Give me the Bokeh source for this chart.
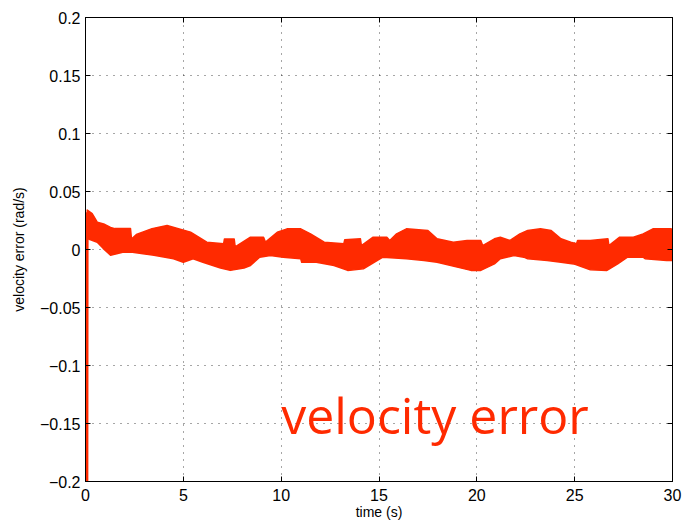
from bokeh.plotting import figure
from bokeh.models import Range1d, FixedTicker, LinearAxis, Label
from bokeh.embed import file_html
from bokeh.resources import INLINE

# Upper envelope of the dense oscillating velocity-error signal
upper_t = [0.09, 0.34, 0.6, 0.93, 1.28, 1.5, 2.3, 2.35, 2.6, 3.4, 4.17, 5.37,
           6.2, 7.06, 7.1, 7.6, 7.65, 8.43, 9.1, 9.2, 9.8, 10.3, 11.0, 11.5,
           12.2, 13.2, 13.25, 14.05, 14.1, 14.7, 15.4, 15.55, 15.9, 16.4, 17.5,
           17.97, 18.8, 19.5, 20.2, 20.3, 20.9, 21.2, 21.7, 22.2, 22.6, 23.25,
           23.8, 24.3, 24.8, 25.1, 25.15, 25.8, 26.7, 26.75, 27.3, 28.0, 28.5,
           29.0, 29.9, 30.0]
upper_v = [0.034, 0.031, 0.0235, 0.022, 0.019, 0.018, 0.018, 0.009, 0.013,
           0.018, 0.0207, 0.015, 0.0063, 0.005, 0.009, 0.009, 0.0023, 0.0106,
           0.0106, 0.0063, 0.0149, 0.0178, 0.0178, 0.0135, 0.0063, 0.0049,
           0.0085, 0.0092, 0.0034, 0.0106, 0.0106, 0.0078, 0.0135, 0.0178,
           0.0164, 0.0092, 0.0063, 0.0078, 0.0078, 0.0034, 0.0092, 0.0106,
           0.0078, 0.0135, 0.0164, 0.0178, 0.0164, 0.0092, 0.0063, 0.0049,
           0.0078, 0.0078, 0.0092, 0.0034, 0.0106, 0.0106, 0.0135, 0.0178,
           0.0178, 0.0175]

# Lower envelope
lower_t = [0.09, 0.6, 0.9, 1.28, 1.9, 2.4, 3.5, 4.5, 5.0, 5.5, 6.0, 6.9, 7.4,
           8.1, 8.43, 8.9, 9.45, 10.1, 11.0, 11.05, 11.8, 12.7, 13.4, 14.2,
           14.9, 15.2, 16.4, 17.3, 17.97, 19.0, 19.7, 20.2, 20.9, 21.2, 21.9,
           22.4, 22.6, 23.6, 24.3, 24.95, 25.8, 26.65, 27.2, 27.7, 28.5, 28.6,
           29.7, 30.0]
lower_v = [0.0095, 0.0063, 0.001, -0.005, -0.0023, -0.0023, -0.005, -0.008,
           -0.011, -0.008, -0.011, -0.016, -0.018, -0.016, -0.0138, -0.0066,
           -0.0052, -0.0066, -0.008, -0.011, -0.011, -0.0138, -0.018, -0.0167,
           -0.0095, -0.0066, -0.008, -0.0095, -0.011, -0.0152, -0.018, -0.018,
           -0.0124, -0.008, -0.0052, -0.0066, -0.008, -0.0095, -0.011, -0.0124,
           -0.0175, -0.018, -0.0124, -0.0066, -0.0066, -0.008, -0.0095, -0.0095]

# Initial transient
trans_t = [0.07, 0.08, 0.09]
trans_v = [-0.2, 0.0, 0.032]

x_ticks = [0, 5, 10, 15, 20, 25, 30]
y_ticks = [-0.2, -0.15, -0.1, -0.05, 0, 0.05, 0.1, 0.15, 0.2]
y_tick_labels = ["\u22120.2", "\u22120.15", "\u22120.1", "\u22120.05", "0",
                 "0.05", "0.1", "0.15", "0.2"]

RED = "#ff2a00"
FONT = "Liberation Sans"

p = figure(frame_width=587, frame_height=464, output_backend="svg",
           toolbar_location=None,
           x_range=Range1d(0, 30), y_range=Range1d(-0.2, 0.2),
           min_border_left=85, min_border_top=17, min_border_right=10,
           min_border_bottom=43)
p.background_fill_color = "white"
p.border_fill_color = "white"
p.outline_line_color = "black"
p.outline_line_width = 1
p.outline_line_alpha = 1

p.xaxis.ticker = FixedTicker(ticks=x_ticks)
p.yaxis.ticker = FixedTicker(ticks=y_ticks)
p.yaxis.major_label_overrides = {t: l for t, l in zip(y_ticks, y_tick_labels)}

for ax in (p.xaxis[0], p.yaxis[0]):
    ax.major_tick_in = 5
    ax.major_tick_out = 0
    ax.minor_tick_in = 0
    ax.minor_tick_out = 0
    ax.axis_line_color = "black"
    ax.major_tick_line_color = "black"
    ax.major_label_text_font = FONT
    ax.major_label_text_font_size = "16px"
    ax.major_label_text_color = "black"
    ax.axis_label_text_font = FONT
    ax.axis_label_text_font_size = "14px"
    ax.axis_label_text_font_style = "normal"
    ax.axis_label_text_color = "black"

p.xaxis.axis_label = "time (s)"
p.yaxis.axis_label = "velocity error (rad/s)"
p.xaxis.major_label_standoff = 7
p.xaxis.axis_label_standoff = 0
p.yaxis.major_label_standoff = 5
p.yaxis.axis_label_standoff = 10

# box ticks on top and right
top_ax = LinearAxis(ticker=FixedTicker(ticks=x_ticks))
right_ax = LinearAxis(ticker=FixedTicker(ticks=y_ticks))
for ax in (top_ax, right_ax):
    ax.major_tick_in = 5
    ax.major_tick_out = 0
    ax.minor_tick_in = 0
    ax.minor_tick_out = 0
    ax.major_label_text_font_size = "0px"
    ax.major_label_text_alpha = 0
    ax.major_label_standoff = 0
    ax.axis_line_color = "black"
    ax.major_tick_line_color = "black"
p.add_layout(top_ax, "above")
p.add_layout(right_ax, "right")

p.grid.grid_line_color = "black"
p.grid.grid_line_alpha = 0.7
p.grid.grid_line_dash = "1 6"
p.grid.grid_line_width = 1

band_x = upper_t + lower_t[::-1]
band_y = upper_v + lower_v[::-1]
p.patch(band_x, band_y, fill_color=RED, line_color=RED, line_width=1.5,
        line_join="round")
p.line(trans_t, trans_v, line_color=RED, line_width=3)

p.add_layout(Label(x=10, y=-0.143, text="velocity error", text_color=RED,
                   text_font="Open Sans", text_font_size="50px",
                   text_align="left", text_baseline="alphabetic"))

open("out.html", "w").write(file_html(p, INLINE))
